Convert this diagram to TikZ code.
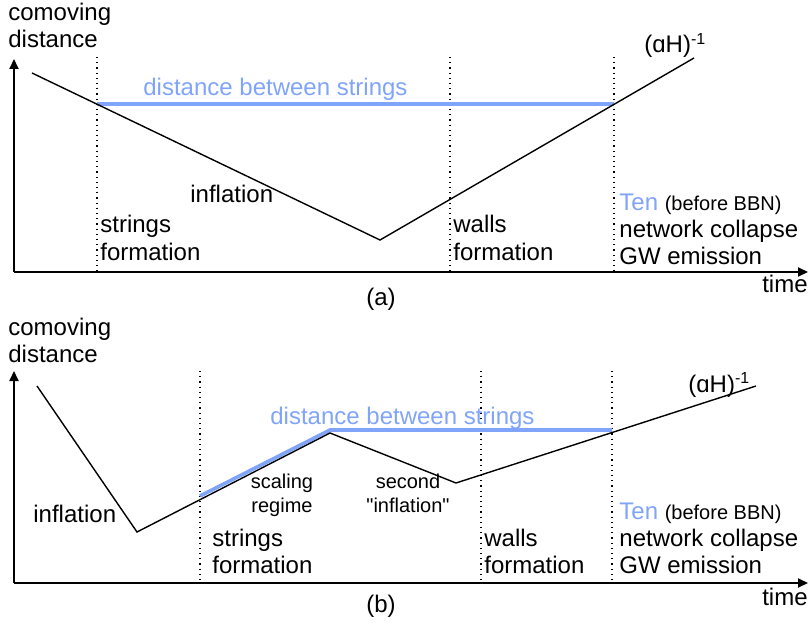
\documentclass[tikz,border=0pt]{standalone}
\usepackage{fontspec}
\setmainfont{Liberation Sans}
\usetikzlibrary{arrows.meta,positioning}
\definecolor{stringblue}{RGB}{128,164,250}

\begin{document}
\begin{tikzpicture}[x=0.5pt,y=-0.5pt,
    axis/.style={line width=1pt,-{Triangle[length=5pt,width=4.5pt]}},
    curve/.style={line width=0.7pt},
    epoch/.style={dotted,line width=0.6pt},
    sep/.style={stringblue,line width=1.8pt},
    lbl/.style={anchor=base west,inner sep=0pt,align=left,font=\fontsize{12}{13.5}\selectfont},
    small/.style={anchor=base,inner sep=0pt,align=center,font=\fontsize{10}{12}\selectfont}]
    \useasboundingbox (0,0) rectangle (809,626);

    % (a)
    \coordinate (a0) at (14,272);
    \draw[axis] (a0) -- (808,272);
    \draw[axis] (a0) -- (14,59);
    \node[lbl] (ylabA) at (8,48) {comoving\\distance};
    \node[lbl,anchor=base east] (timeA) at (808,292) {time};
    \node[lbl,anchor=base] (capA) at (381,305) {(a)};
    \foreach \x in {97,450,614} \draw[epoch] (\x,57) -- (\x,272);
    \draw[sep] (97,104) -- (614,104);
    \draw[curve] (32,73) -- (380,240) -- (694,58);
    \node[lbl,text=stringblue] (sepA) at (143,96) {distance between strings};
    \node[lbl] (hubA) at (644,53) {(ɑH)\textsuperscript{-1}};
    \node[lbl] (infA) at (190,203) {inflation};
    \node[lbl] (strA) at (100,260) {strings\\formation};
    \node[lbl] (walA) at (453,260) {walls\\formation};
    \node[lbl] (endA) at (619,264) {\textcolor{stringblue}{Ten} {\fontsize{10}{12}\selectfont(before BBN)}\\network collapse\\GW emission};

    % (b)
    \coordinate (b0) at (14,583);
    \draw[axis] (b0) -- (808,583);
    \draw[axis] (b0) -- (14,371);
    \node[lbl] (ylabB) at (8,362) {comoving\\distance};
    \node[lbl,anchor=base east] (timeB) at (808,605) {time};
    \node[lbl,anchor=base] (capB) at (381,612) {(b)};
    \foreach \x in {200,481,612} \draw[epoch] (\x,371) -- (\x,583);
    \draw[sep] (200,496) -- (330,430) -- (612,430);
    \draw[curve] (37,386) -- (137,532) -- (330,433) -- (456,483) -- (756,386);
    \node[lbl,text=stringblue] (sepB) at (270,424) {distance between strings};
    \node[lbl] (hubB) at (688,392) {(ɑH)\textsuperscript{-1}};
    \node[lbl] (infB) at (33,522) {inflation};
    \node[small] (scal) at (282,512) {scaling\\regime};
    \node[small] (second) at (408,512) {second\\\textquotedbl inflation\textquotedbl};
    \node[lbl] (strB) at (212,573) {strings\\formation};
    \node[lbl] (walB) at (484,573) {walls\\formation};
    \node[lbl] (endB) at (619,573) {\textcolor{stringblue}{Ten} {\fontsize{10}{12}\selectfont(before BBN)}\\network collapse\\GW emission};
\end{tikzpicture}
\end{document}
